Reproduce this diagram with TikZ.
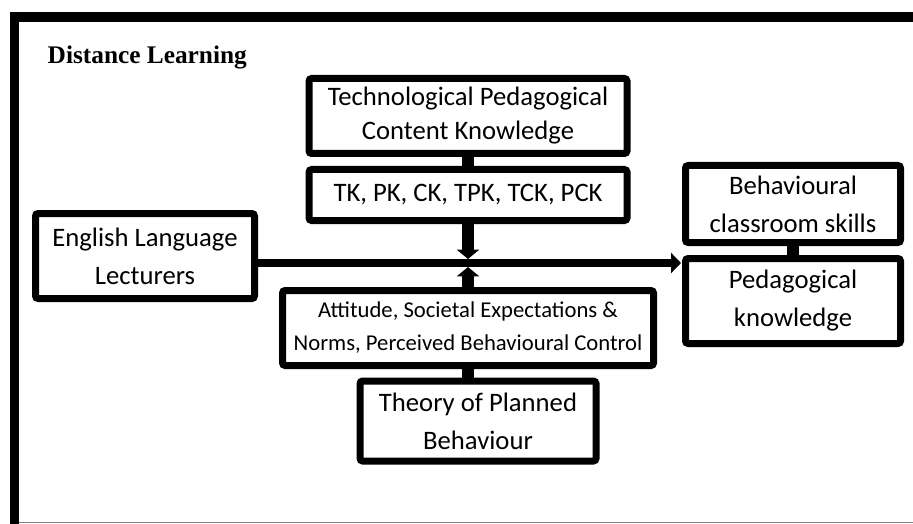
\documentclass[tikz,border=0pt]{standalone}
\usepackage{fontspec}
\setmainfont{Carlito}
\newfontfamily\titlefont{Liberation Serif}
\usepackage{tikz}
\usetikzlibrary{arrows.meta}
\usetikzlibrary{calc}

\tikzset{
  box/.style={draw, line width=5.25pt, rounded corners=2pt, align=center, inner sep=0pt,
              font={\fontsize{20}{28.5}\selectfont}},
  smallbox/.style={box, font={\fontsize{17}{24.75}\selectfont}},
  link/.style={line width=8.5pt},
  downarrow/.style={link, -{Triangle[width=16.5pt,length=7pt]}},
  mainline/.style={line width=6pt, -{Triangle[width=15pt,length=7.5pt]}}
}

\begin{document}
\begin{tikzpicture}[x=0.75pt,y=-0.75pt]
  \useasboundingbox (0,0) rectangle (913,524);
  %% outer frame
  \draw[line width=7pt] (14.5,524) -- (14.5,17) -- (913,17);
  \draw[gray, line width=1.2pt] (19,522.5) -- (913,522.5);
  \node[font={\titlefont\bfseries\fontsize{19}{21}\selectfont}, anchor=west] (title) at (43,58) {Distance Learning};

  %% boxes
  \node[box, minimum width=238.5pt, minimum height=56.25pt,
        font={\fontsize{20}{25.5}\selectfont}] (tpack) at (468,116) {Technological Pedagogical\\Content Knowledge};
  \node[box, minimum width=238.5pt, minimum height=38.25pt] (tk) at (468,195) {TK, PK, CK, TPK, TCK, PCK};
  \node[box, minimum width=164.25pt, minimum height=63.75pt] (ell) at (145,256) {English Language\\Lecturers};
  \node[smallbox, minimum width=278.25pt, minimum height=56.25pt] (att) at (468,328) {Attitude, Societal Expectations \&\\Norms, Perceived Behavioural Control};
  \node[box, minimum width=177pt, minimum height=60pt] (tpb) at (478,421) {Theory of Planned\\Behaviour};
  \node[box, minimum width=161.25pt, minimum height=57.75pt] (bcs) at (793,204) {Behavioural\\classroom skills};
  \node[box, minimum width=161.25pt, minimum height=63.75pt] (pk) at (793,301) {Pedagogical\\knowledge};

  %% connectors
  \coordinate (jtop) at (468,259);
  \coordinate (jbot) at (468,267);
  \coordinate (tip) at (681,263);
  \draw[mainline] (ell.east |- tip) -- (tip);
  \draw[link] (tpack.south) -- (tk.north);
  \draw[downarrow] (tk.south) -- (jtop);
  \draw[downarrow] (att.north) -- (jbot);
  \draw[link] (att.south) -- (att.south |- tpb.north);
  \draw[link] (bcs.south) -- (pk.north);
\end{tikzpicture}
\end{document}
